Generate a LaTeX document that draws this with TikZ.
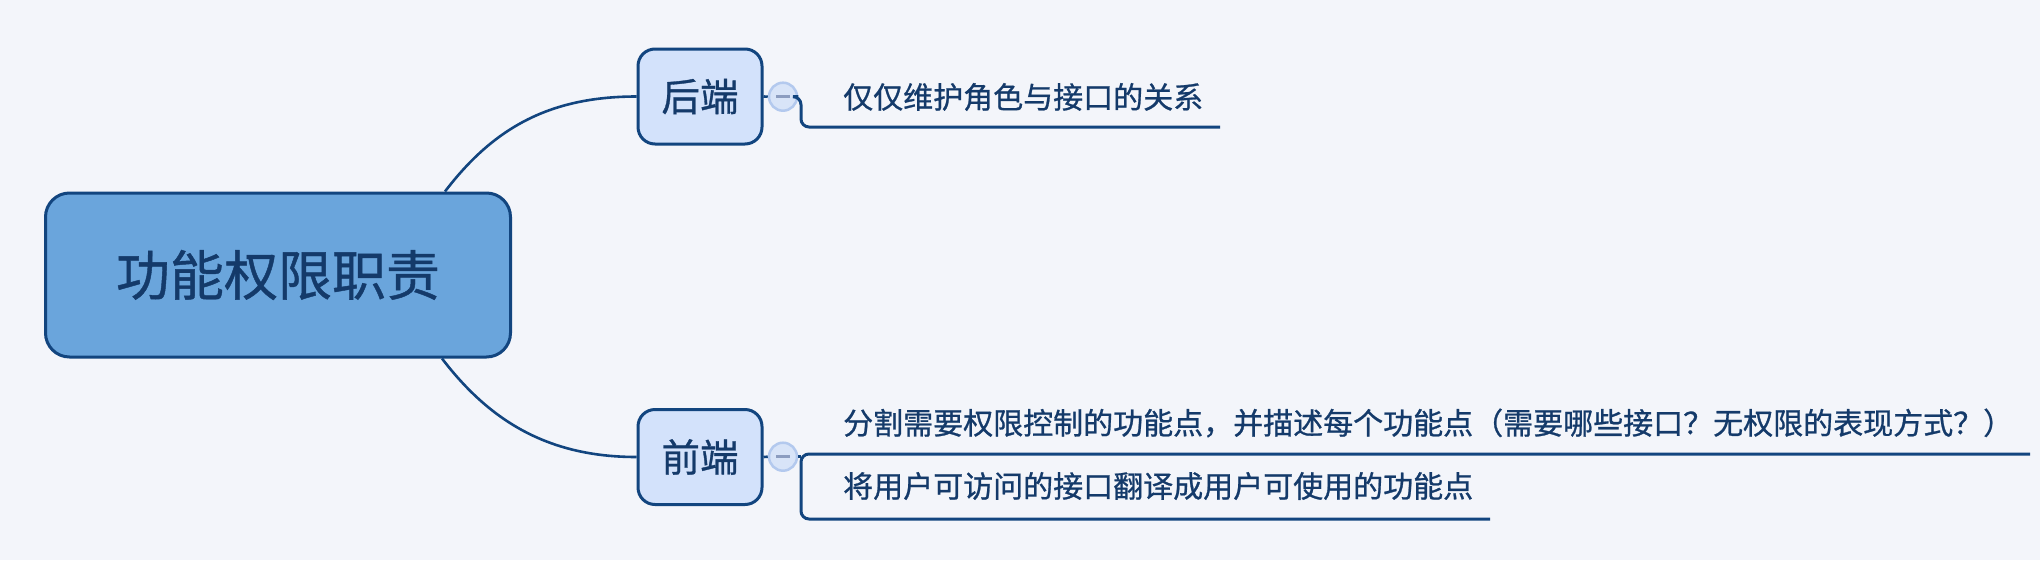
\documentclass[tikz,border=0pt]{standalone}
\usepackage{fontspec}
\setmainfont[FakeBold=0.8]{Noto Sans CJK SC}
\definecolor{bgc}{HTML}{F3F5FA}
\definecolor{rootfill}{HTML}{6AA5DC}
\definecolor{linec}{HTML}{12457F}
\definecolor{nodefill}{HTML}{D3E2FB}
\definecolor{txtc}{HTML}{143A6A}
\definecolor{circfill}{HTML}{D8E4F8}
\definecolor{circline}{HTML}{B3C9EE}
\definecolor{minusc}{HTML}{8C9DC0}
\begin{document}
\begin{tikzpicture}[x=1pt,y=-1pt,
  rootbox/.style={draw=linec,line width=3pt,fill=rootfill,rounded corners=24pt,
    minimum width=465pt,minimum height=164pt,inner sep=0pt,text=txtc,
    font=\fontsize{54}{62}\selectfont},
  subbox/.style={draw=linec,line width=3pt,fill=nodefill,rounded corners=17pt,
    minimum width=124pt,minimum height=95pt,inner sep=0pt,text=txtc,
    font=\fontsize{38.5}{44}\selectfont},
  leaftext/.style={anchor=west,inner sep=0pt,text=txtc,font=\fontsize{30}{36}\selectfont},
  collapse/.style={circle,draw=circline,line width=2.5pt,fill=circfill,
    minimum size=28pt,inner sep=0pt},
  conn/.style={draw=linec,line width=2.6pt},
  uline/.style={draw=linec,line width=3pt,rounded corners=8pt}
]
\fill[bgc] (0,0) rectangle (2040,560);
\useasboundingbox (0,0) rectangle (2040,560);

\node[rootbox] (root) at (278,275) {功能权限职责};
\node[subbox] (back) at (700,96.5) {后端};
\node[subbox] (front) at (700,457) {前端};

\node[collapse] (cb) at (783,96.7) {};
\node[collapse] (cf) at (783,456.7) {};
\draw[minusc,line width=2.5pt] ([xshift=-7pt]cb.center) -- ([xshift=7pt]cb.center);
\draw[minusc,line width=2.5pt] ([xshift=-7pt]cf.center) -- ([xshift=7pt]cf.center);

% curves from root
\draw[conn] ([xshift=167pt]root.north) .. controls (492,130) and (547,96.5) .. (back.west);
\draw[conn] ([xshift=164pt]root.south) .. controls (489,420) and (547,457) .. (front.west);

\draw[conn] (back.east) -- (cb.west);
\draw[conn] (front.east) -- (cf.west);

% leaf texts
\node[leaftext] (t1) at (843,97) {仅仅维护角色与接口的关系};
\node[leaftext] (t2) at (843,423) {分割需要权限控制的功能点，并描述每个功能点（需要哪些接口？无权限的表现方式？）};
\node[leaftext] (t3) at (843,486) {将用户可访问的接口翻译成用户可使用的功能点};

\coordinate (u1) at (1220,127);
\coordinate (u2) at (2030,454);
\coordinate (u3) at (1490,519);

\draw[uline] (cb.east) -- (801,96.7) -- (801,127) -- (u1);
\draw[uline] (u2) -- (801,454) -- (801,519) -- (u3);
\draw[conn] (cf.east) -- (801,456.7);
\end{tikzpicture}
\end{document}
